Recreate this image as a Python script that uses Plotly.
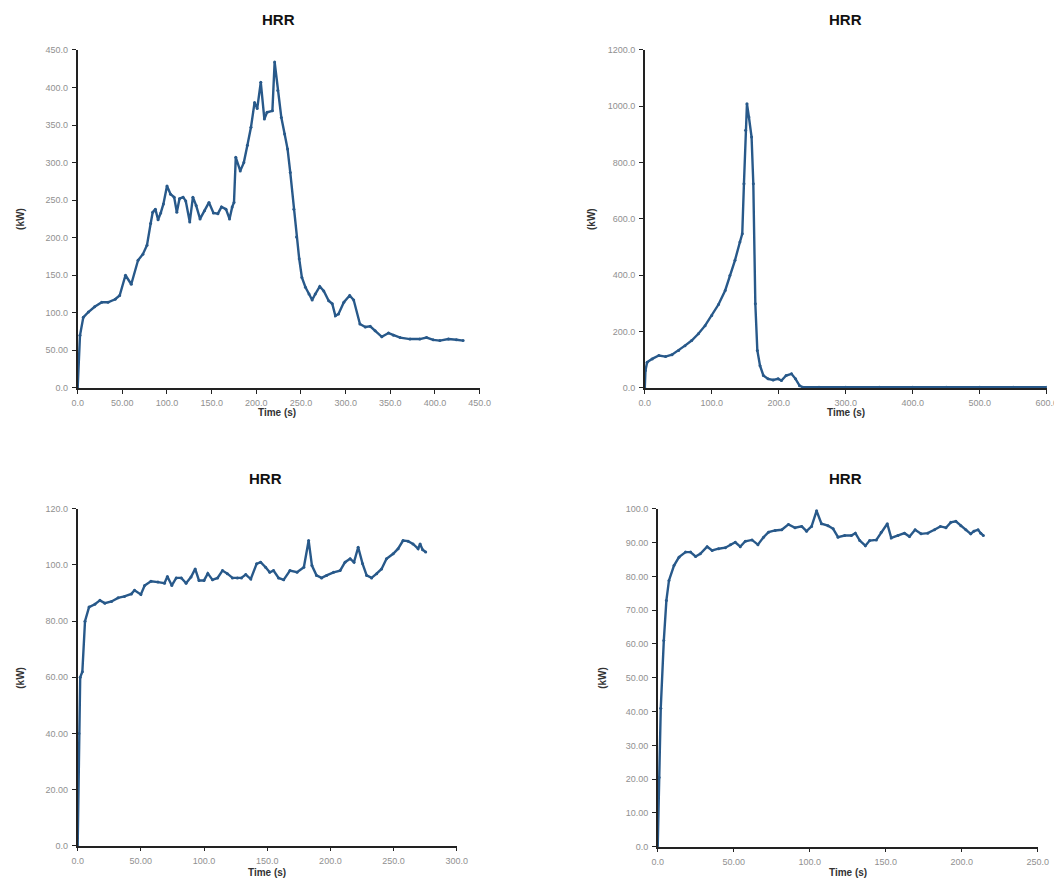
import plotly.graph_objects as go

# ---------------- data ----------------
# Panel 1 (top-left)
t1 = [0, 2.6, 6.3, 12, 19, 27, 34, 42, 47, 53.5, 60, 67.6, 73, 77.6, 81.7, 84, 87, 90, 93, 96,
      100, 104, 108, 111, 114, 118, 121, 125.5, 129, 132.6, 137, 142, 147, 152, 157, 161, 166, 170,
      173, 175, 177, 182, 186, 190, 194, 198, 201, 205, 209, 212, 218, 220.5, 224, 228, 231.7, 235,
      238, 242, 245, 248, 251, 255, 259, 262.5, 266, 271, 275.5, 281, 285, 288.5, 292, 298, 304.5,
      309, 316, 322, 327.5, 333, 340.5, 348, 353.5, 361, 372, 383, 390.6, 398, 405.5, 415, 424, 431.5]
q1 = [0, 70, 94, 101, 108, 114, 114, 118, 123, 150, 138, 170, 178, 190, 219, 234, 238, 224, 233, 245,
      269, 258, 254, 234, 252, 254, 249, 221, 254, 243, 225, 236, 247, 233, 232, 241, 238, 225,
      241, 247, 307, 289, 300, 323, 347, 380, 372, 407, 358, 367, 369, 434, 396, 360, 338, 318,
      287, 238, 201, 172, 147, 134, 125, 117, 125, 135, 129, 116, 112, 96, 98.5, 114, 123,
      117, 85, 81, 82, 76, 68, 73, 70, 67, 65, 65, 67, 64, 63, 65, 64, 63]

# Panel 2 (top-right)
t2 = [0, 1, 3.5, 11, 21, 31, 40.6, 50.5, 60, 70, 80, 90, 100, 110, 120, 127, 134.6, 142, 145.5,
      148, 150.5, 152.5, 155.4, 159.4, 162, 165, 168, 172, 177, 184, 191.6, 199, 204, 211, 219,
      225, 231, 236, 260, 300, 350, 400, 450, 500, 550, 600]
q2 = [0, 62, 91, 103, 115, 111, 118, 133, 150, 168, 192, 221, 257, 296, 346, 399, 453, 518, 547,
      725, 915, 1009, 962, 891, 725, 299, 133, 79, 44, 32, 28, 32, 26, 44, 50,
      32, 8, 2, 2, 2, 2, 2, 2, 2, 2, 2]

# Panel 3 (bottom-left)
t3 = [0, 1, 2, 3.7, 5.8, 9, 13.6, 17.6, 21.5, 26.8, 32, 37, 42.5, 45, 50, 53, 58, 63.5, 68.7, 71,
      74.5, 78, 82, 85.8, 89.7, 93, 96, 100, 103, 106.7, 110.7, 114.6, 118.5, 122.5, 126.4, 129.6,
      133, 137, 141.6, 144.8, 148.7, 152, 155, 159, 163, 168, 173.6, 179, 182.8, 185.4, 189, 193,
      197, 202.5, 207.7, 211.6, 215.6, 218.7, 222, 225.5, 228.7, 232.6, 236.6, 240.5, 244.4,
      249.7, 253.6, 257.5, 261.5, 265.4, 269.4, 271, 273, 275.4]
q3 = [0, 40, 60, 62, 80, 85, 86, 87.4, 86.4, 87, 88.3, 88.8, 89.7, 91, 89.5, 92.7, 94.2, 93.9, 93.5, 95.9,
      92.7, 95.4, 95.4, 93.5, 95.7, 98.6, 94.5, 94.5, 97, 94.7, 95.4, 98, 96.9, 95.4, 95.4, 95.4,
      96.6, 95, 100.4, 101, 99.2, 97.4, 98, 95.4, 94.7, 98, 97.4, 99.2, 108.7, 99.8, 96.3, 95.4,
      96.3, 97.4, 98, 101, 102.2, 101, 106.3, 100.4, 96.3, 95.4, 96.9, 98.6, 102.2,
      104, 105.8, 108.7, 108.5, 107.5, 105.8, 107.5, 105.4, 104.6]

# Panel 4 (bottom-right)
t4 = [0, 0.9, 2, 4, 5.7, 7.4, 10.7, 14, 18.3, 21.6, 24.9, 28, 32.5, 35.8, 40, 44.5, 47.8, 51, 54.3,
      57.6, 62, 65.9, 69.6, 72.9, 77.2, 81.6, 86, 90.3, 94.7, 97.9, 101.2, 104.5, 107.7, 112,
      115.4, 118.6, 123, 127.4, 130, 132.9, 136.6, 139.4, 143.8, 147, 151, 153.6, 158, 162.3,
      165.6, 169.3, 173.2, 177.6, 182, 185.9, 189.6, 192.8, 196.1, 199.4, 202.7, 205.9, 208,
      210.7, 212.5, 214.2]
q4 = [0, 20.5, 41, 61, 72.9, 78.8, 83.2, 85.7, 87.2, 87.2, 85.9, 86.7, 88.8, 87.7, 88.2, 88.5, 89.4, 90.1, 88.8,
      90.4, 90.8, 89.4, 91.6, 93.1, 93.6, 93.8, 95.4, 94.4, 94.8, 93.4, 94.8, 99.4, 95.6, 95,
      94.1, 91.6, 92.1, 92.1, 92.8, 90.6, 89.1, 90.6, 90.8, 93.1, 95.6, 91.4, 92.1, 92.8,
      91.8, 93.8, 92.6, 92.8, 93.8, 94.8, 94.4, 96, 96.3, 95, 93.8, 92.6, 93.4,
      93.8, 92.8, 92.1]

# tick values / labels
x1_vals = [0, 50, 100, 150, 200, 250, 300, 350, 400, 450]
x1_text = ["0.0", "50.00", "100.0", "150.0", "200.0", "250.0", "300.0", "350.0", "400.0", "450.0"]
y1_vals = [0, 50, 100, 150, 200, 250, 300, 350, 400, 450]
y1_text = ["0.0", "50.00", "100.0", "150.0", "200.0", "250.0", "300.0", "350.0", "400.0", "450.0"]

x2_vals = [0, 100, 200, 300, 400, 500, 600]
x2_text = ["0.0", "100.0", "200.0", "300.0", "400.0", "500.0", "600.0"]
y2_vals = [0, 200, 400, 600, 800, 1000, 1200]
y2_text = ["0.0", "200.0", "400.0", "600.0", "800.0", "1000.0", "1200.0"]

x3_vals = [0, 50, 100, 150, 200, 250, 300]
x3_text = ["0.0", "50.00", "100.0", "150.0", "200.0", "250.0", "300.0"]
y3_vals = [0, 20, 40, 60, 80, 100, 120]
y3_text = ["0.0", "20.00", "40.00", "60.00", "80.00", "100.0", "120.0"]

x4_vals = [0, 50, 100, 150, 200, 250]
x4_text = ["0.0", "50.00", "100.0", "150.0", "200.0", "250.0"]
y4_vals = [0, 10, 20, 30, 40, 50, 60, 70, 80, 90, 100]
y4_text = ["0.0", "10.00", "20.00", "30.00", "40.00", "50.00", "60.00", "70.00", "80.00", "90.00", "100.0"]

titles = ["HRR", "HRR", "HRR", "HRR"]
x_title = "Time (s)"
y_title = "(kW)"

# ---------------- figure ----------------
W, H = 1062, 883
LINE = "#28598a"
FONT = "Liberation Sans, Arial, sans-serif"

# target pixel boxes in the screenshot: (left, right, top, bottom)
boxes = [(76, 480, 49, 387), (646, 1050, 49, 387), (76, 457, 508, 845), (659, 1041, 508, 846)]
series = [(t1, q1), (t2, q2), (t3, q3), (t4, q4)]
xt = [(x1_vals, x1_text), (x2_vals, x2_text), (x3_vals, x3_text), (x4_vals, x4_text)]
yt = [(y1_vals, y1_text), (y2_vals, y2_text), (y3_vals, y3_text), (y4_vals, y4_text)]

title_pos = [(278, 19), (848, 19), (265, 478), (848, 478)]
xlab_pos = [(276, 412), (848, 412), (266, 872), (850, 872)]
ylab_pos = [(19, 218), (593, 218), (19, 677), (604, 677)]

# calibration between layout pixels and the page screenshot
SCALE, SHIFT = 0.989, 12.0


def px(x):
    return ((x - SHIFT) / SCALE) / W


def py(y):
    return 1 - ((y - SHIFT) / SCALE) / H


fig = go.Figure()
layout = dict(width=W, height=H, margin=dict(l=0, r=0, t=0, b=0),
              paper_bgcolor="white", plot_bgcolor="white", showlegend=False,
              font=dict(family=FONT, color="#333"))
annotations = []

for i, ((l, r, tp, bt), (tx, qy), (xv, xtx), (yv, ytx)) in enumerate(zip(boxes, series, xt, yt)):
    n = "" if i == 0 else str(i + 1)
    fig.add_trace(go.Scatter(x=tx, y=qy, mode="lines+markers",
                             line=dict(color=LINE, width=2.4),
                             marker=dict(size=3, color=LINE),
                             xaxis="x" + n, yaxis="y" + n))
    axis_common = dict(showgrid=False, zeroline=False, showline=True, linecolor="#222", linewidth=1.5,
                       ticks="outside", ticklen=4, tickwidth=1.2, tickcolor="#222",
                       ticklabelstandoff=2,
                       tickfont=dict(size=9, color="#909090", family=FONT))
    layout["xaxis" + n] = dict(domain=[px(l), px(r)], anchor="y" + n,
                               range=[0, xv[-1]], tickmode="array", tickvals=xv, ticktext=xtx,
                               **axis_common)
    layout["yaxis" + n] = dict(domain=[py(bt), py(tp)], anchor="x" + n,
                               range=[0, yv[-1]], tickmode="array", tickvals=yv, ticktext=ytx,
                               **axis_common)
    annotations.append(dict(text="<b>" + titles[i] + "</b>", x=px(title_pos[i][0]), y=py(title_pos[i][1]),
                            xref="paper", yref="paper", showarrow=False,
                            xanchor="center", yanchor="middle",
                            font=dict(size=15, color="#111", family=FONT)))
    annotations.append(dict(text="<b>" + x_title + "</b>", x=px(xlab_pos[i][0]), y=py(xlab_pos[i][1]),
                            xref="paper", yref="paper", showarrow=False,
                            xanchor="center", yanchor="middle",
                            font=dict(size=10, color="#333", family=FONT)))
    annotations.append(dict(text="<b>" + y_title + "</b>", x=px(ylab_pos[i][0]), y=py(ylab_pos[i][1]),
                            xref="paper", yref="paper", showarrow=False, textangle=-90,
                            xanchor="center", yanchor="middle",
                            font=dict(size=10, color="#333", family=FONT)))

layout["annotations"] = annotations
fig.update_layout(**layout)
fig.write_html("out.html")
